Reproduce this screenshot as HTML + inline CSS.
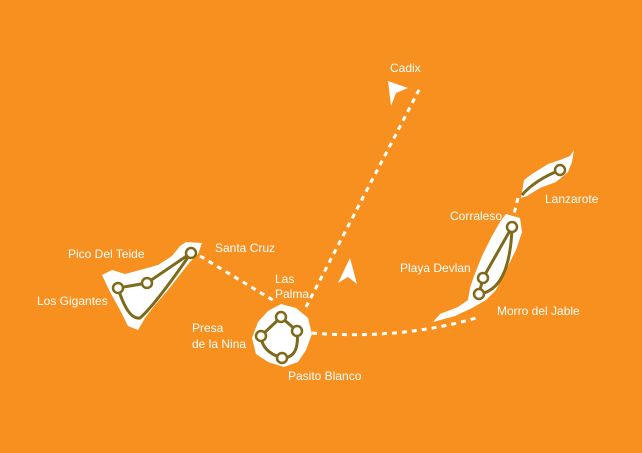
<!DOCTYPE html>
<html><head><style>
html,body{margin:0;padding:0;background:#F7901E;}
svg{display:block}
text{font-family:"Liberation Sans",sans-serif;font-size:12px;fill:#fff;}
</style></head><body>
<svg width="642" height="453" viewBox="0 0 642 453" xmlns="http://www.w3.org/2000/svg">
<rect width="642" height="453" fill="#F7901E"/>
<g fill="none" stroke="#fff" stroke-width="3" stroke-dasharray="5,5">
<path d="M200 256 L276 302"/>
<path d="M306 307 L420 88"/>
<path d="M312 333 Q400 340 476 318"/>
<path d="M518 198 L513 218"/>
</g>
<g fill="#fff">
<path d="M102 275 L112 270 L125 274 L140 270 L158 265 L172 256 L180 246 L186 242 L202 243 L198 254 L190 262 L182 272 L168 290 L155 305 L145 318 L138 330 L128 326 L120 310 L110 292 Z"/>
<path d="M281 304 L296 308 L308 318 L312 334 L306 350 L298 362 L284 367 L268 362 L256 354 L252 338 L258 322 L268 311 Z"/>
<path d="M506 214 L520 218 L522 232 L516 250 L506 270 L496 290 L486 300 L472 308 L455 316 L433 322 L440 314 L458 307 L468 300 L470 288 L474 276 L482 256 L492 236 L500 222 Z"/>
<path d="M524 180 L532 174 L548 164 L560 160 L570 156 L574 150 L572 162 L568 172 L556 182 L540 188 L527 196 L521 198 Z"/>
<path d="M388 81 L408 88 L396 93 L391 106 Z"/>
<path d="M350 258 L357 284 L348 277 L338 283 Z"/>
</g>
<g fill="none" stroke="#7d6a1a" stroke-width="3">
<path d="M191 253 L147 283 L118 288 Q128 320 140 318 Q155 305 191 253"/>
<path d="M281 317 L297 331 Q300 358 282 358 Q262 352 261 336 Z"/>
<path d="M512 227 L483 278 L479 294 Q510 290 512 227"/>
<path d="M560 170 Q535 180 522 195"/>
</g>
<g fill="#fff" stroke="#7d6a1a" stroke-width="2.5">
<circle cx="191" cy="253" r="5"/><circle cx="147" cy="283" r="5"/><circle cx="118" cy="288" r="5"/>
<circle cx="281" cy="317" r="5"/><circle cx="297" cy="331" r="5"/><circle cx="261" cy="336" r="5"/><circle cx="282" cy="358" r="5"/>
<circle cx="512" cy="227" r="5"/><circle cx="483" cy="278" r="5"/><circle cx="479" cy="294" r="5"/>
<circle cx="560" cy="170" r="5"/>
</g>
<text x="390" y="72">Cadix</text>
<text x="545" y="203">Lanzarote</text>
<text x="450" y="220">Corraleso</text>
<text x="400" y="272">Playa Devlan</text>
<text x="497" y="315">Morro del Jable</text>
<text x="68" y="258">Pico Del Teide</text>
<text x="37" y="305">Los Gigantes</text>
<text x="215" y="252">Santa Cruz</text>
<text x="275" y="283">Las</text>
<text x="275" y="298">Palma</text>
<text x="192" y="332">Presa</text>
<text x="192" y="348">de la Nina</text>
<text x="288" y="380">Pasito Blanco</text>
</svg>
</body></html>
